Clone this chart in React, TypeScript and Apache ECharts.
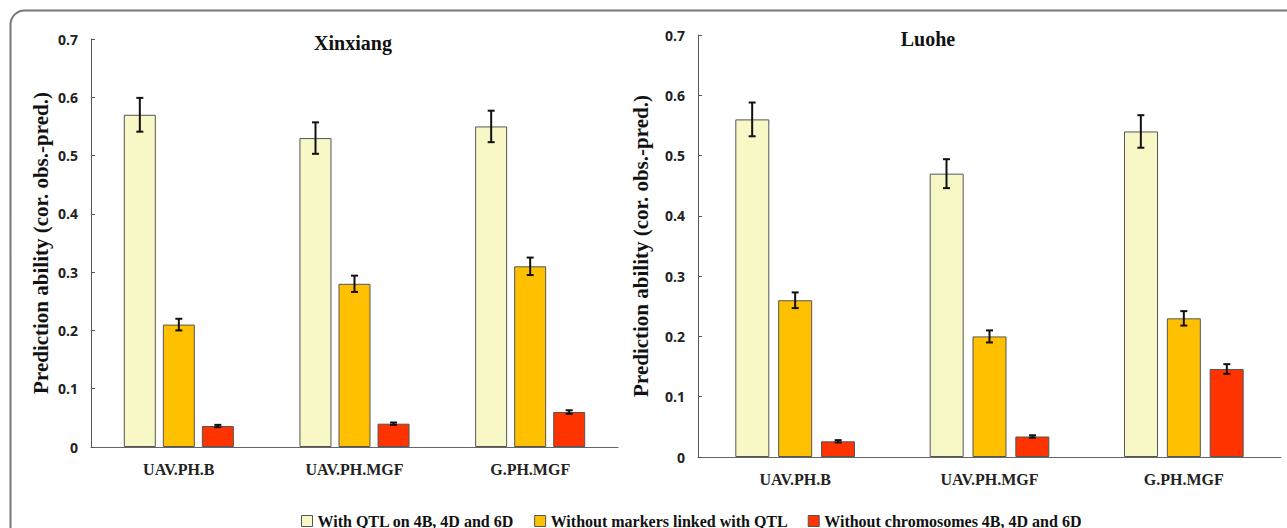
import React, { useEffect, useRef } from "react";
import * as echarts from "echarts";

const categories = ["UAV.PH.B", "UAV.PH.MGF", "G.PH.MGF"];
const seriesNames = [
  "With QTL on 4B, 4D and 6D",
  "Without markers linked with QTL",
  "Without chromosomes 4B, 4D and 6D",
];
const seriesColors = ["#F8F8C6", "#FFC000", "#FF3300"];
const yTicks = [0, 0.1, 0.2, 0.3, 0.4, 0.5, 0.6, 0.7];

// Xinxiang
const xinxiangWithQTL = [0.57, 0.53, 0.55];
const xinxiangWithQTLErr = [0.029, 0.027, 0.027];
const xinxiangNoMarkers = [0.21, 0.28, 0.31];
const xinxiangNoMarkersErr = [0.01, 0.014, 0.015];
const xinxiangNoChrom = [0.036, 0.04, 0.06];
const xinxiangNoChromErr = [0.002, 0.002, 0.003];

// Luohe
const luoheWithQTL = [0.56, 0.47, 0.54];
const luoheWithQTLErr = [0.028, 0.024, 0.027];
const luoheNoMarkers = [0.26, 0.2, 0.23];
const luoheNoMarkersErr = [0.013, 0.01, 0.012];
const luoheNoChrom = [0.026, 0.034, 0.146];
const luoheNoChromErr = [0.002, 0.002, 0.008];

const SERIF = "'Liberation Serif', 'Times New Roman', serif";
const SANS = "'Open Sans', 'Liberation Sans', sans-serif";

export default function App() {
  const ref = useRef<HTMLDivElement>(null);

  useEffect(() => {
    document.body.style.margin = "0";
    if (!ref.current) return;
    const chart = echarts.init(ref.current, undefined, { renderer: "svg" });

    const panels = [
      {
        title: "Xinxiang",
        values: [xinxiangWithQTL, xinxiangNoMarkers, xinxiangNoChrom],
        errs: [xinxiangWithQTLErr, xinxiangNoMarkersErr, xinxiangNoChromErr],
        barWidth: 32,
        gap: 7,
        nameGap: 40,
      },
      {
        title: "Luohe",
        values: [luoheWithQTL, luoheNoMarkers, luoheNoChrom],
        errs: [luoheWithQTLErr, luoheNoMarkersErr, luoheNoChromErr],
        barWidth: 34,
        gap: 9,
        nameGap: 47,
      },
    ];

    const grids = [
      { left: 91, right: 669, top: 39, bottom: 81 },
      { left: 698, right: 6, top: 35, bottom: 71 },
    ];

    const xAxes = grids.map((_, gi) => ({
      type: "category",
      gridIndex: gi,
      data: categories,
      axisTick: { show: false },
      axisLine: { lineStyle: { color: "#666", width: 1 } },
      axisLabel: {
        margin: 14,
        fontFamily: SERIF,
        fontWeight: "bold",
        fontSize: 16,
        color: "#222",
      },
    }));

    const yAxes = grids.map((_, gi) => ({
      type: "value",
      gridIndex: gi,
      min: 0,
      max: 0.7,
      interval: 0.1,
      name: "Prediction ability (cor. obs.-pred.)",
      nameLocation: "middle",
      nameGap: panels[gi].nameGap,
      nameTextStyle: {
        fontFamily: SERIF,
        fontWeight: "bold",
        fontSize: 21,
        color: "#111",
      },
      axisLine: { show: true, lineStyle: { color: "#555", width: 1 } },
      axisTick: { show: true, inside: true, length: 4, lineStyle: { color: "#555" } },
      splitLine: { show: false },
      axisLabel: {
        margin: 13,
        fontFamily: SANS,
        fontWeight: "bold",
        fontSize: 14,
        color: "#222",
        formatter: (v: number) => (v === 0 ? "0" : v.toFixed(1)),
      },
    }));

    const series: any[] = [];
    panels.forEach((p, gi) => {
      p.values.forEach((vals, si) => {
        series.push({
          type: "bar",
          name: seriesNames[si],
          xAxisIndex: gi,
          yAxisIndex: gi,
          data: vals,
          barWidth: p.barWidth,
          barGap: `${Math.round((p.gap / p.barWidth) * 100)}%`,
          itemStyle: { color: seriesColors[si], borderColor: "#555", borderWidth: 1 },
          z: 2,
        });
      });
      p.values.forEach((vals, si) => {
        const offset = (si - 1) * (p.barWidth + p.gap);
        series.push({
          type: "custom",
          name: `err-${gi}-${si}`,
          xAxisIndex: gi,
          yAxisIndex: gi,
          z: 5,
          data: vals.map((v, i) => [i, v, p.errs[si][i]]),
          encode: { x: 0, y: 1 },
          renderItem: (params: any, api: any) => {
            const xi = api.value(0);
            const v = api.value(1);
            const e = api.value(2);
            const top = api.coord([xi, v + e]);
            const bot = api.coord([xi, v - e]);
            const cx = top[0] + offset;
            const cap = 3.5;
            const style = { stroke: "#111", lineWidth: 2 };
            return {
              type: "group",
              children: [
                { type: "line", shape: { x1: cx, y1: top[1], x2: cx, y2: bot[1] }, style },
                { type: "line", shape: { x1: cx - cap, y1: top[1], x2: cx + cap, y2: top[1] }, style },
                { type: "line", shape: { x1: cx - cap, y1: bot[1], x2: cx + cap, y2: bot[1] }, style },
              ],
            };
          },
        });
      });
    });

    chart.setOption({
      animation: false,
      backgroundColor: "#ffffff",
      grid: grids,
      xAxis: xAxes,
      yAxis: yAxes,
      legend: {
        data: seriesNames,
        left: 296,
        top: 508,
        icon: "rect",
        itemWidth: 11,
        itemHeight: 11,
        itemGap: 20,
        itemStyle: { borderColor: "#555", borderWidth: 1 },
        textStyle: {
          fontFamily: SERIF,
          fontWeight: "bold",
          fontSize: 16,
          color: "#111",
        },
      },
      graphic: [
        {
          type: "rect",
          silent: true,
          z: -10,
          shape: { x: 10.5, y: 10.5, width: 1320, height: 560, r: 14 },
          style: { fill: "none", stroke: "#777", lineWidth: 2 },
        },
        {
          type: "text",
          x: 353,
          y: 43,
          style: {
            text: panels[0].title,
            fontFamily: SERIF,
            fontWeight: "bold",
            fontSize: 20,
            fill: "#111",
            textAlign: "center",
            textVerticalAlign: "middle",
          },
        },
        {
          type: "text",
          x: 928,
          y: 39,
          style: {
            text: panels[1].title,
            fontFamily: SERIF,
            fontWeight: "bold",
            fontSize: 20,
            fill: "#111",
            textAlign: "center",
            textVerticalAlign: "middle",
          },
        },
      ],
      series,
    });

    return () => {
      chart.dispose();
    };
  }, []);

  return <div ref={ref} style={{ width: 1287, height: 528 }} />;
}
